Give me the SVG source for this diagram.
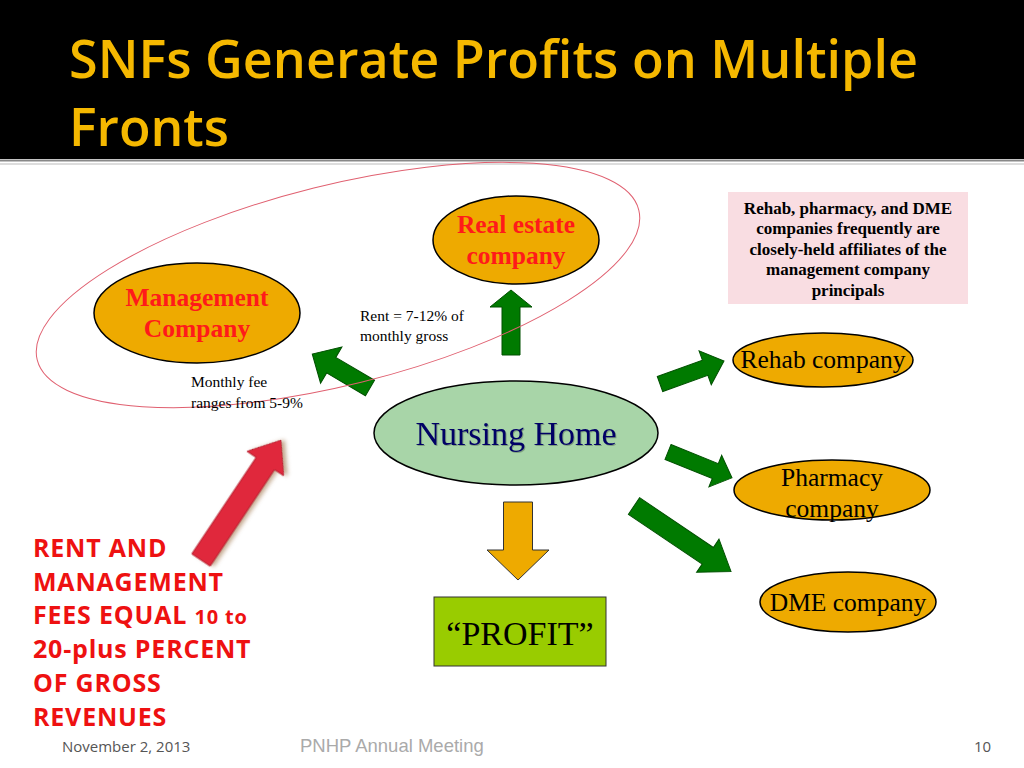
<svg xmlns="http://www.w3.org/2000/svg" width="1024" height="768" viewBox="0 0 1024 768">
<style>
.title{font-family:"Open Sans","Liberation Sans",sans-serif;font-size:52px;fill:#f5b800;font-weight:600}
.node{stroke:#000;stroke-width:1.5}
.org{fill:#eeaa00}
.red{font-family:"Liberation Serif",serif;font-weight:bold;font-size:25.5px;fill:#ff1a1a;text-anchor:middle}
.blk{font-family:"Liberation Serif",serif;font-size:25.5px;fill:#000;text-anchor:middle}
.lbl{font-family:"Liberation Serif",serif;font-size:15.5px;fill:#000}
.info{font-family:"Liberation Serif",serif;font-weight:bold;font-size:17px;fill:#000;text-anchor:middle}
.garr{fill:#007a00;stroke:#005000;stroke-width:1}
.big{font-family:"Open Sans","Liberation Sans",sans-serif;font-weight:bold;font-size:25px;fill:#ee1111;letter-spacing:0.8px}
.foot{font-family:"Open Sans","Liberation Sans",sans-serif;font-size:15px;fill:#555}
</style>
<rect x="0" y="0" width="1024" height="768" fill="#fff"/>
<rect x="0" y="0" width="1024" height="159" fill="#000"/>
<line x1="0" y1="160.5" x2="1024" y2="160.5" stroke="#888" stroke-width="2"/>
<line x1="0" y1="164" x2="1024" y2="164" stroke="#bbb" stroke-width="1"/>
<text class="title" x="69" y="78" textLength="849" lengthAdjust="spacingAndGlyphs">SNFs Generate Profits on Multiple</text>
<text class="title" x="69" y="146" textLength="160" lengthAdjust="spacingAndGlyphs">Fronts</text>

<g id="connectors">
<polygon class="garr" transform="translate(511,355) rotate(-90)" points="0,-9 48,-9 48,-21 65,0 48,21 48,9 0,9"/>
<polygon class="garr" transform="translate(370,388) rotate(210.5)" points="0,-9 45,-9 45,-21 67,0 45,21 45,9 0,9"/>
<polygon class="garr" transform="translate(660,384) rotate(-19.8)" points="0,-8 48,-8 48,-18 68,0 48,18 48,8 0,8"/>
<polygon class="garr" transform="translate(668,452) rotate(22)" points="0,-8 51,-8 51,-17 69,0 51,17 51,8 0,8"/>
<polygon class="garr" transform="translate(634,506) rotate(34)" points="0,-10 89,-10 89,-20 117,0 89,20 89,10 0,10"/>
<polygon fill="#eeaa00" stroke="#333" stroke-width="1" transform="translate(518,502) rotate(90)" points="0,-14.5 48,-14.5 48,-31 78,0 48,31 48,14.5 0,14.5"/>
<polygon fill="#e0283c" stroke="#b81e2e" stroke-width="1" transform="translate(201,560) rotate(-56.3)" points="0,-11 116,-11 116,-22 144,0 116,22 116,11 0,11" style="filter:drop-shadow(2px 3px 2px rgba(120,60,0,0.45))"/>
</g>

<ellipse id="group-outline" cx="338" cy="285" rx="310" ry="100" transform="rotate(-14 338 285)" fill="none" stroke="#e06070" stroke-width="1"/>

<g id="management">
<ellipse class="node org" cx="197" cy="313" rx="103" ry="50"/>
<text class="red" x="197" y="306">Management</text>
<text class="red" x="197" y="337">Company</text>
</g>
<g id="realestate">
<ellipse class="node org" cx="516" cy="240" rx="83" ry="44"/>
<text class="red" x="516" y="233">Real estate</text>
<text class="red" x="516" y="264">company</text>
</g>
<g id="nursing">
<ellipse class="node" fill="#a8d5a8" cx="516" cy="433" rx="142" ry="52"/>
<text x="516" y="445" font-family="Liberation Serif,serif" font-size="34" fill="#000066" text-anchor="middle" style="filter:drop-shadow(1px 1px 0 rgba(0,0,0,0.25))">Nursing Home</text>
</g>
<g id="rehab">
<ellipse class="node org" cx="823" cy="360" rx="90" ry="27"/>
<text class="blk" x="823" y="368" font-size="26.5">Rehab company</text>
</g>
<g id="pharmacy">
<ellipse class="node org" cx="832" cy="490" rx="98" ry="30"/>
<text class="blk" x="832" y="486">Pharmacy</text>
<text class="blk" x="832" y="517">company</text>
</g>
<g id="dme">
<ellipse class="node org" cx="848" cy="602" rx="88" ry="30"/>
<text class="blk" x="848" y="611">DME company</text>
</g>
<g id="profit">
<rect x="434" y="597" width="172" height="69" fill="#99cc00" stroke="#333" stroke-width="1"/>
<text x="520" y="645" font-family="Liberation Serif,serif" font-size="34" fill="#000" text-anchor="middle">“PROFIT”</text>
</g>
<g id="info">
<rect x="728" y="192" width="240" height="112" fill="#f9dde2"/>
<text class="info" x="848" y="214">Rehab, pharmacy, and DME</text>
<text class="info" x="848" y="234">companies frequently are</text>
<text class="info" x="848" y="255">closely-held affiliates of the</text>
<text class="info" x="848" y="275">management company</text>
<text class="info" x="848" y="296">principals</text>
</g>
<g id="labels">
<text class="lbl" x="360" y="321" font-size="16.5">Rent = 7-12% of</text>
<text class="lbl" x="360" y="341" font-size="16.5">monthly gross</text>
<text class="lbl" x="191" y="387">Monthly fee</text>
<text class="lbl" x="191" y="408">ranges from 5-9%</text>
</g>
<g id="note">
<text class="big" x="33" y="557">RENT AND</text>
<text class="big" x="33" y="591">MANAGEMENT</text>
<text class="big" x="33" y="624">FEES EQUAL <tspan font-size="20">10 to</tspan></text>
<text class="big" x="33" y="658">20-plus PERCENT</text>
<text class="big" x="33" y="692">OF GROSS</text>
<text class="big" x="33" y="726">REVENUES</text>
</g>
<g id="footer">
<text class="foot" x="62" y="752">November 2, 2013</text>
<text x="300" y="752" font-family="Liberation Sans,sans-serif" font-size="18.5" fill="#aaa">PNHP Annual Meeting</text>
<text class="foot" x="974" y="752" font-size="12">10</text>
</g>
</svg>
